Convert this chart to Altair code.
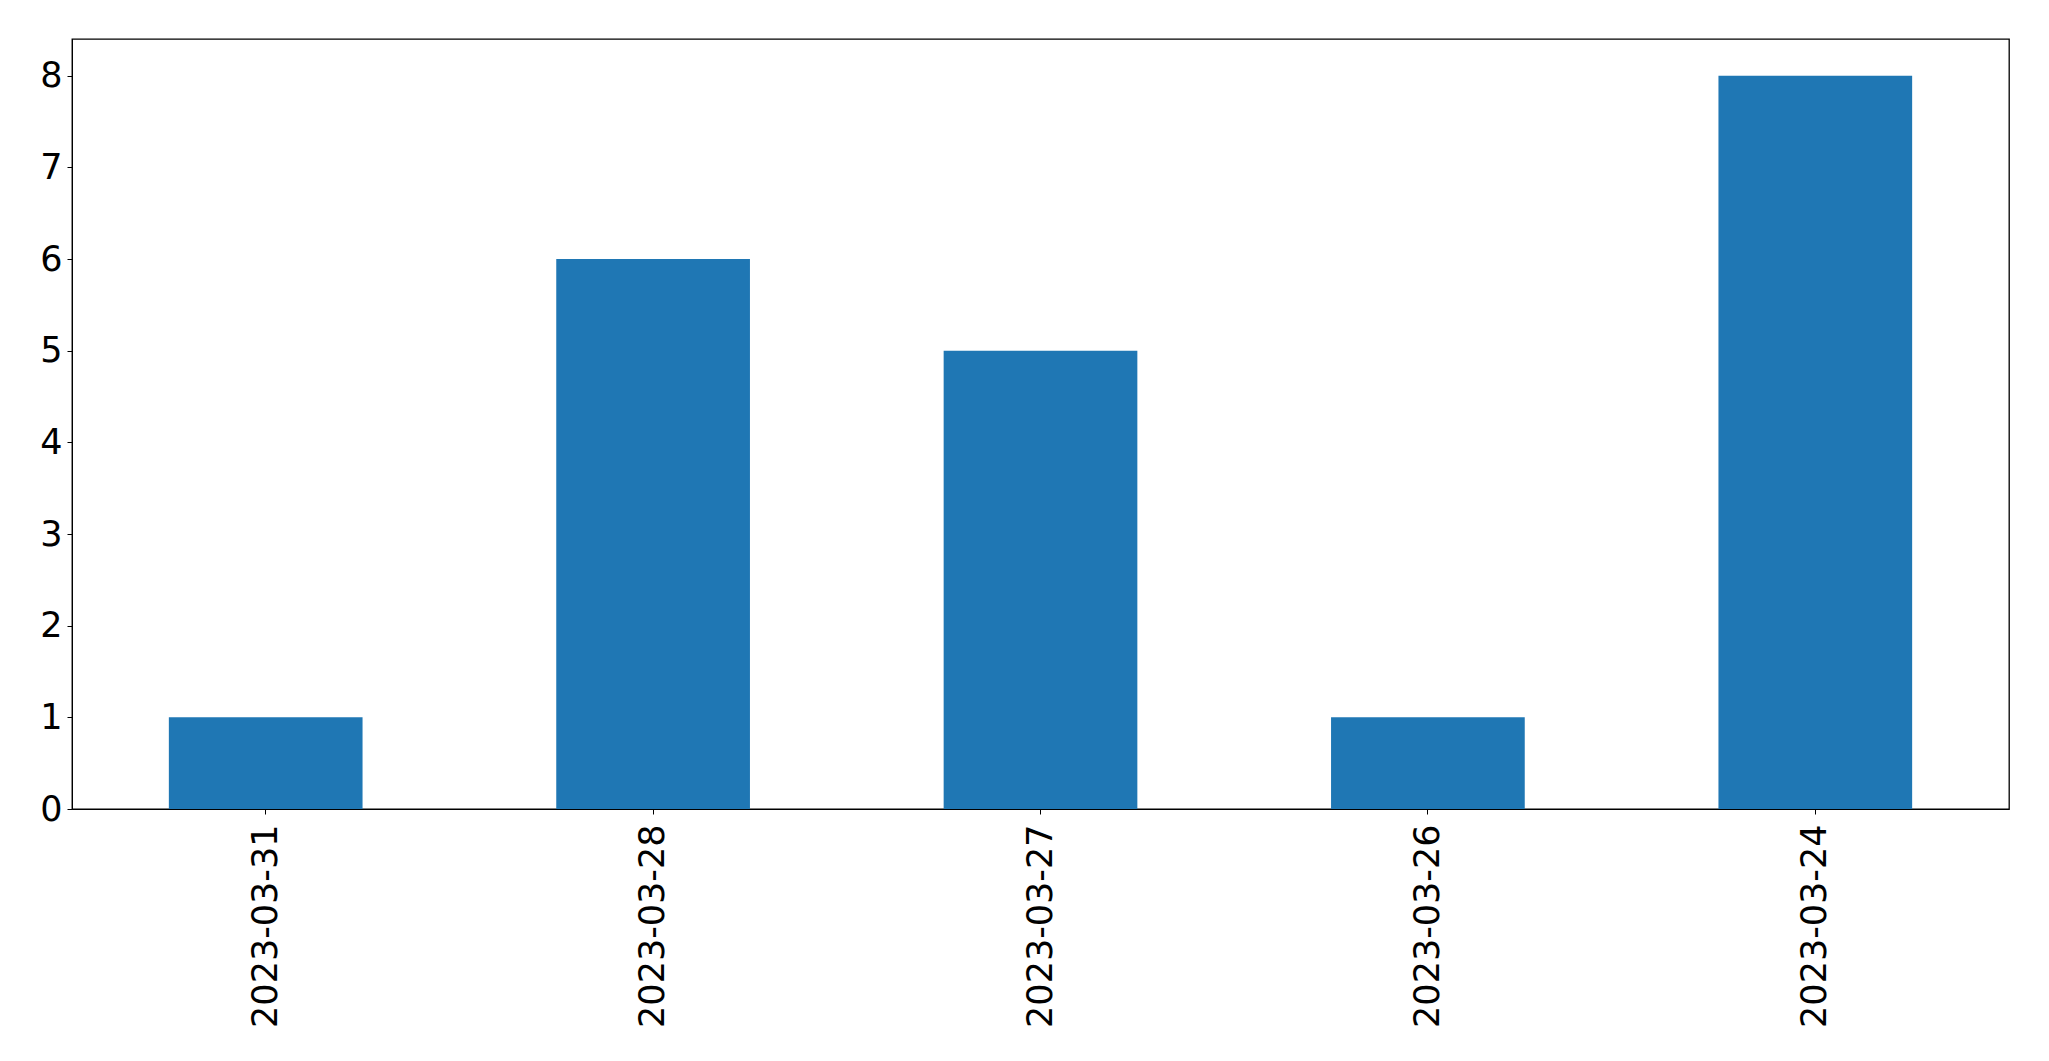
import altair as alt
import pandas as pd

dates = ["2023-03-31", "2023-03-28", "2023-03-27", "2023-03-26", "2023-03-24"]
counts = [1, 6, 5, 1, 8]

df = pd.DataFrame({"date": dates, "count": counts})

chart = (
    alt.Chart(df)
    .mark_bar(color="#1f77b4")
    .encode(
        x=alt.X(
            "date:N",
            sort=dates,
            title=None,
            scale=alt.Scale(paddingInner=0.5, paddingOuter=0.25),
            axis=alt.Axis(
                labelAngle=-90,
                labelFontSize=35,
                labelPadding=10,
                labelLimit=0,
                tickSize=5,
                labelFont="DejaVu Sans",
                labelColor="black",
                domainColor="black",
                tickColor="black",
                grid=False,
            ),
        ),
        y=alt.Y(
            "count:Q",
            title=None,
            scale=alt.Scale(domain=[0, 8.4], nice=False),
            axis=alt.Axis(
                values=[0, 1, 2, 3, 4, 5, 6, 7, 8],
                labelFontSize=35,
                labelPadding=5,
                tickSize=5,
                labelFont="DejaVu Sans",
                labelColor="black",
                domainColor="black",
                tickColor="black",
                grid=False,
            ),
        ),
    )
    .properties(
        width=1937,
        height=770,
        autosize=alt.AutoSizeParams(type="none"),
        padding={"left": 64, "top": 31, "right": 20, "bottom": 220},
    )
    .configure(background="white", view=alt.ViewConfig(stroke="black", strokeWidth=1.3))
)

chart.save("out.html", embed_options={"renderer": "svg", "actions": False})
